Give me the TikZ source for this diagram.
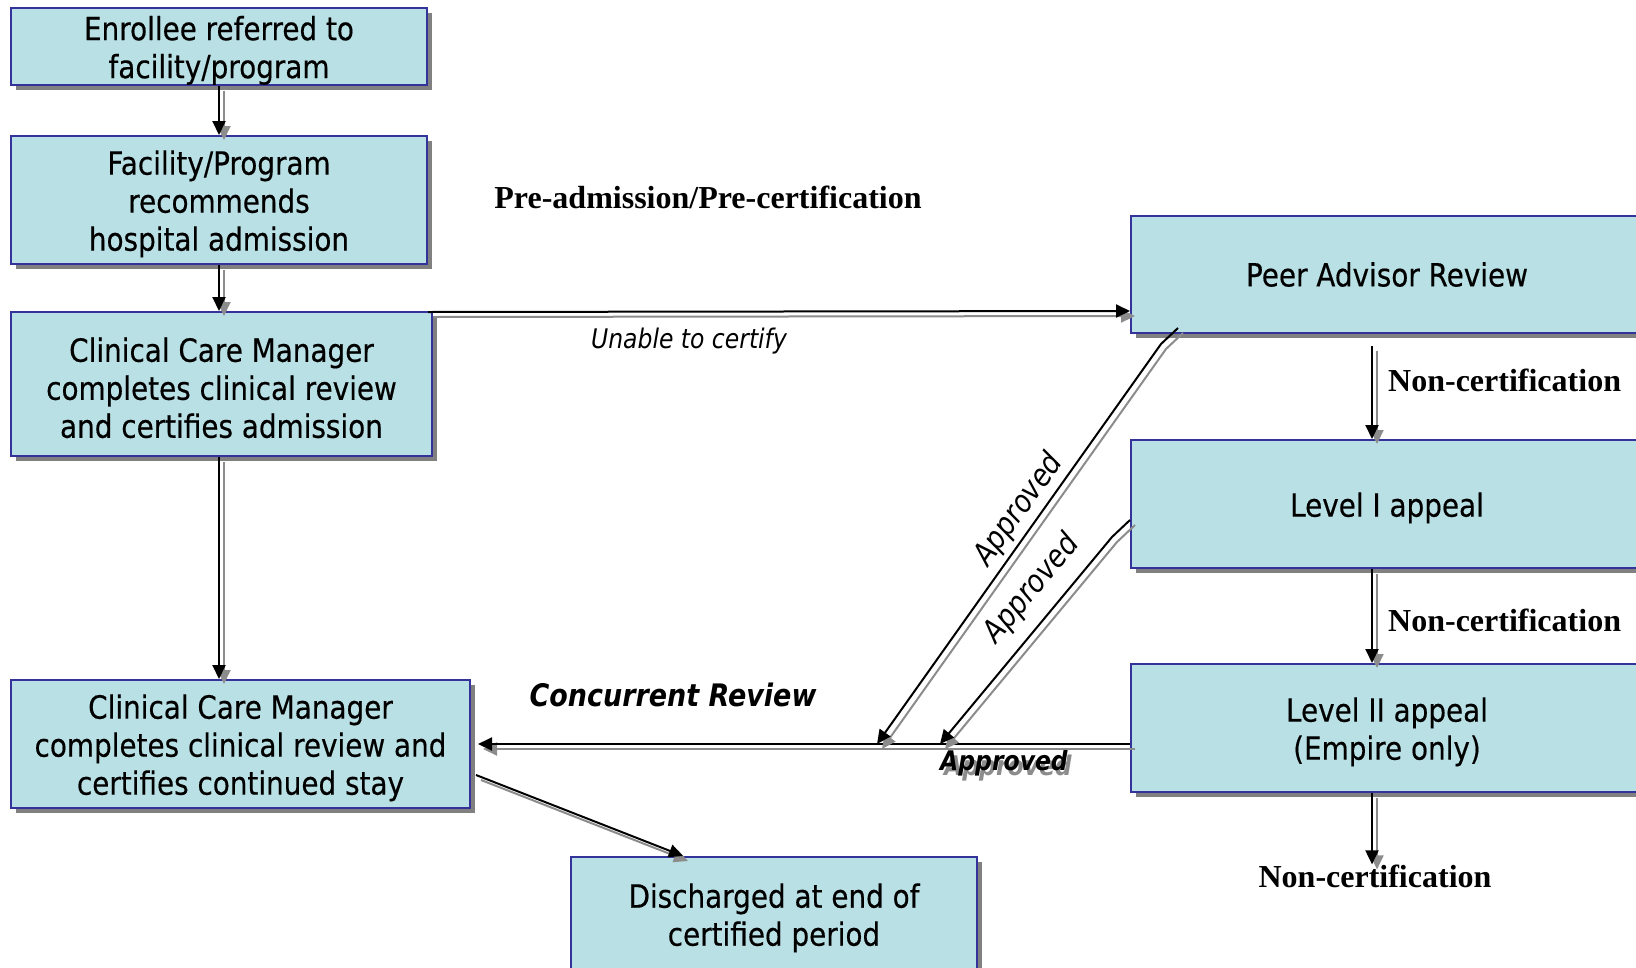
\documentclass[tikz,border=0pt]{standalone}
\usepackage{fontspec}
\newfontfamily\boxfont{DejaVu Sans}[FakeStretch=0.87,FakeBold=0.4]
\newfontfamily\labfont{DejaVu Sans}[FakeStretch=0.87]
\newfontfamily\serifb{Liberation Serif}
\usetikzlibrary{arrows.meta,shadows,calc}
\definecolor{boxfill}{RGB}{185,224,228}
\definecolor{boxline}{RGB}{51,51,153}
\definecolor{shgray}{RGB}{128,128,128}
\definecolor{argray}{RGB}{140,140,140}
\newcommand\bxs{\rule{0pt}{32pt}}
\tikzset{
  box/.style={draw=boxline, line width=2pt, fill=boxfill, inner sep=0pt, align=center,
    font=\boxfont\fontsize{32}{38}\selectfont,
    drop shadow={shadow xshift=5pt, shadow yshift=-5pt, fill=shgray, opacity=1}},
  conn/.style={line width=2pt, black, -{Triangle[length=14pt,width=13pt]},
    preaction={draw=argray, line width=2pt, -{Triangle[length=14pt,width=13pt]},
      transform canvas={shift={(5pt,-5pt)}}}},
  serlab/.style={font=\serifb\bfseries\fontsize{32}{38}\selectfont, inner sep=0pt},
  itlab/.style={font=\labfont\itshape\fontsize{27}{32}\selectfont, inner sep=0pt},
}
\begin{document}
\begin{tikzpicture}[x=1pt,y=-1pt]
\useasboundingbox (0,0) rectangle (1636,967);
\clip (0,0) rectangle (1636,967);
\fill[white] (0,0) rectangle (1636,967);

% boxes
\node[box, minimum width=416pt, minimum height=77pt] (b1) at (219,46.5) {\bxs Enrollee referred to\\facility/program};
\node[box, minimum width=416pt, minimum height=128pt] (b2) at (219,200) {\bxs Facility/Program\\recommends\\hospital admission};
\node[box, minimum width=421pt, minimum height=144pt] (b3) at (221.5,384) {\bxs Clinical Care Manager\\completes clinical review\\and certifies admission};
\node[box, minimum width=459pt, minimum height=128pt] (b4) at (240.5,744) {\bxs Clinical Care Manager\\completes clinical review and\\certifies continued stay};
\node[box, minimum width=406pt, minimum height=114pt] (b5) at (774,914) {\bxs Discharged at end of\\certified period};
\node[box, minimum width=512pt, minimum height=117pt] (peer) at (1387,274.5) {Peer Advisor Review};
\node[box, minimum width=512pt, minimum height=128pt] (l1) at (1387,504) {\bxs Level I appeal};
\node[box, minimum width=512pt, minimum height=128pt] (l2) at (1387,728) {\bxs Level II appeal\\(Empire only)};

% labels
\node[serlab] (pre) at (708,197) {Pre-admission/Pre-certification};
\node[serlab, anchor=west] (n1) at (1388,380) {Non-certification};
\node[serlab, anchor=west] (n2) at (1388,620) {Non-certification};
\node[serlab] (n3) at (1375,876) {Non-certification};
\node[itlab] (unable) at (689,341) {Unable to certify};
\node[font=\labfont\bfseries\itshape\fontsize{31}{36}\selectfont, inner sep=0pt] (conc) at (673,695) {Concurrent Review};
\node[font=\labfont\itshape\fontsize{31}{36}\selectfont, inner sep=0pt, rotate=54.5] (ap1) at (1019,510) {Approved};
\node[font=\labfont\itshape\fontsize{31}{36}\selectfont, inner sep=0pt, rotate=50] (ap2) at (1032,589) {Approved};
\node[font=\labfont\bfseries\itshape\fontsize{27}{32}\selectfont, inner sep=0pt, text=argray] (ap3s) at (1008,768) {Approved};
\node[font=\labfont\bfseries\itshape\fontsize{27}{32}\selectfont, inner sep=0pt] (ap3) at (1004,763) {Approved};

% connectors
\draw[conn] (b1.south) -- (b2.north);
\draw[conn] (b2.south) -- (b2.south |- b3.north);
\draw[conn] (b2.south |- b3.south) -- (b2.south |- b4.north);
\draw[conn] ([shift={(-5,1)}]b3.north east) -- (b3.north east -| peer.west);

\coordinate (pa) at ([shift={(-15,12)}]peer.south);
\draw[conn] (pa) -- (pa |- l1.north);
\draw[conn] ([shift={(-15,0)}]l1.south) -- ([shift={(-15,0)}]l2.north);
\coordinate (pc) at ([shift={(-15,0)}]l2.south);
\draw[conn] (pc) -- (pc |- n3.north);

\coordinate (cr) at ([shift={(0,16)}]l2.west);
\draw[conn] (cr) -- ([shift={(7,0)}]b4.east);

\coordinate (s1) at ([shift={(48,-6)}]peer.south west);
\coordinate (k1) at ([shift={(31,10)}]peer.south west);
\coordinate (t1) at (877,744);
\draw[conn] (s1) -- (k1) -- (t1);

\coordinate (s2) at ([shift={(0,16)}]l1.west);
\coordinate (k2) at ([shift={(-18,33)}]l1.west);
\coordinate (t2) at (940,744);
\draw[conn] (s2) -- (k2) -- (t2);

\draw[conn] ([shift={(5,31)}]b4.east) -- ([shift={(-91,0)}]b5.north);
\end{tikzpicture}
\end{document}
